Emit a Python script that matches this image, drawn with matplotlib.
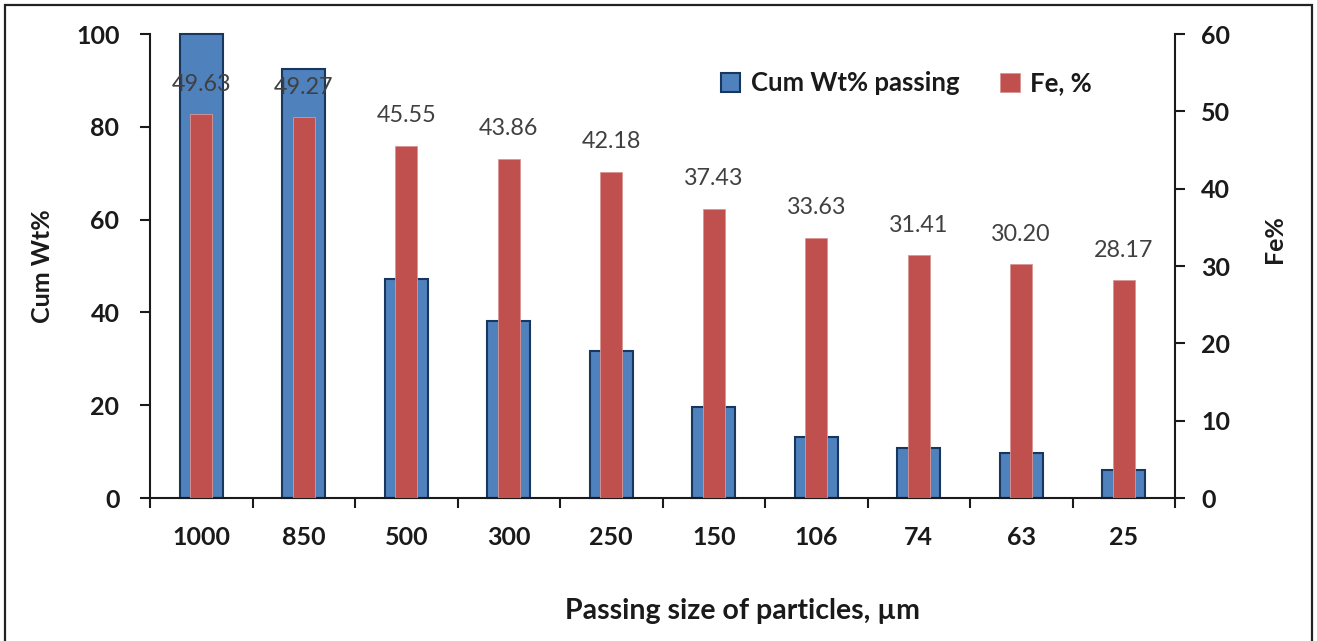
import numpy as np
import matplotlib
matplotlib.use("Agg")
import matplotlib.pyplot as plt
from matplotlib.patches import Rectangle

# particle size classes (µm) and measured values
sizes = ["1000", "850", "500", "300", "250", "150", "106", "74", "63", "25"]
cum_wt_passing = [100.0, 92.5, 47.2, 38.2, 31.7, 19.7, 13.1, 10.7, 9.8, 6.0]
fe_pct = [49.63, 49.27, 45.55, 43.86, 42.18, 37.43, 33.63, 31.41, 30.20, 28.17]

BLUE = "#4F81BD"
BLUE_EDGE = "#17375E"
RED = "#C0504D"
RED_EDGE = "#D99694"
LABEL_GREY = "#404040"
AXIS_COL = "#1a1a1a"

plt.rcParams["font.family"] = ["Lato", "DejaVu Sans"]
plt.rcParams["font.weight"] = "bold"
plt.rcParams["axes.labelweight"] = "bold"

W, H = 1317, 641
fig = plt.figure(figsize=(W / 100, H / 100), dpi=100)
ax = fig.add_axes([150 / W, 143 / H, 1025 / W, 464 / H])
ax2 = ax.twinx()

x = np.arange(len(sizes))
b1 = ax.bar(x, cum_wt_passing, width=0.42, color=BLUE, edgecolor=BLUE_EDGE,
            linewidth=1.5, label="Cum Wt% passing", clip_on=False)
b2 = ax2.bar(x, fe_pct, width=0.215, color=RED, edgecolor=RED_EDGE,
             linewidth=0.6, label="Fe, %")

# Fe labels above the red bars
ax2.bar_label(b2, labels=[f"{v:.2f}" for v in fe_pct], padding=14,
              color=LABEL_GREY, fontsize=16.8, fontweight="normal")

# x axis: ticks between categories, labels at centres
ax.set_xlim(-0.5, len(sizes) - 0.5)
ax.set_xticks(np.arange(-0.5, len(sizes), 1))
ax.set_xticklabels([])
ax.set_xticks(x, minor=True)
ax.set_xticklabels(sizes, minor=True, fontsize=18)
ax.tick_params(axis="x", which="major", length=7, width=1.5, color=AXIS_COL)
ax.tick_params(axis="x", which="minor", length=0, pad=20, labelcolor=AXIS_COL)

# left axis
ax.set_ylim(0, 100)
ax.set_yticks(np.arange(0, 101, 20))
ax.tick_params(axis="y", length=7, width=1.5, pad=15, labelsize=18,
               color=AXIS_COL, labelcolor=AXIS_COL)

# right axis
ax2.set_ylim(0, 60)
ax2.set_yticks(np.arange(0, 61, 10))
ax2.tick_params(axis="y", length=7, width=1.5, pad=12, labelsize=18,
                color=AXIS_COL, labelcolor=AXIS_COL)

for a in (ax, ax2):
    a.spines["top"].set_visible(False)
    for s in a.spines.values():
        s.set_linewidth(1.5)
        s.set_color(AXIS_COL)
ax.spines["right"].set_visible(False)
ax2.spines["left"].set_visible(False)
ax2.spines["bottom"].set_visible(False)

ax.set_ylabel("Cum Wt%", fontsize=18, color=AXIS_COL)
ax.yaxis.set_label_coords(-0.1044, 0.5)
ax.yaxis.label.set_va("center")
ax2.set_ylabel("Fe%", fontsize=18, color=AXIS_COL)
ax2.yaxis.set_label_coords(1.0966, 0.558)
ax2.yaxis.label.set_va("center")
ax.set_xlabel("Passing size of particles, µm", fontsize=20.5, color=AXIS_COL)
ax.xaxis.set_label_coords(0.578, -0.2435)
ax.xaxis.label.set_va("center")

ax2.legend([b1, b2], ["Cum Wt% passing", "Fe, %"], loc="center",
           bbox_to_anchor=(0.738, 0.894), ncol=2, frameon=False, fontsize=18.5,
           handlelength=0.75, handleheight=0.75, handletextpad=0.4,
           columnspacing=1.6, labelcolor=AXIS_COL)

# outer frame around the whole chart
fig.patches.append(Rectangle((5 / W, -0.05), (1312 - 5) / W, 1.05 - 5 / H,
                             transform=fig.transFigure, fill=False,
                             edgecolor="#222222", linewidth=1.6))

fig.savefig("out.png", dpi=100, facecolor="white")
